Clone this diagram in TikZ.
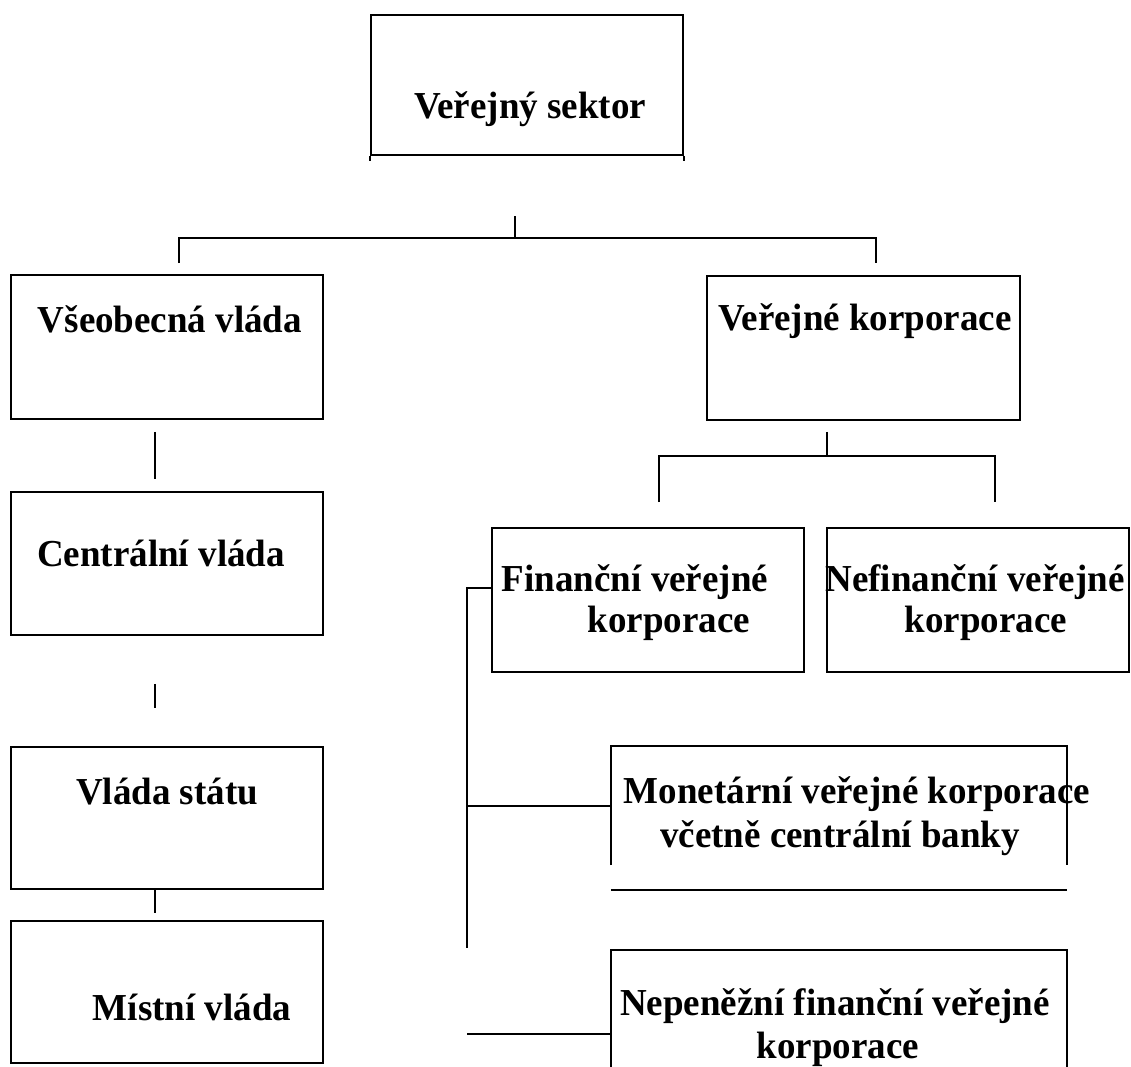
\documentclass[tikz,border=0pt]{standalone}
\usepackage{fontspec}
\setmainfont{Liberation Serif}
\begin{document}
\begin{tikzpicture}[x=1pt,y=-1pt,
  box/.style={draw, line width=1.6pt, inner sep=0pt},
  openbox/.style={inner sep=0pt},
  lbl/.style={font=\bfseries\fontsize{37}{41}\selectfont, inner sep=0pt, anchor=base, yscale=1.03},
  conn/.style={line width=1.6pt}]
\useasboundingbox (0,0) rectangle (1131,1066);
\fill[white] (0,0) rectangle (1131,1066);
\clip (0,0) rectangle (1131,1066);

% boxes
\node[box, minimum width=312pt, minimum height=140pt] (top) at (527,85) {};
\draw[conn] (top.south west) -- ++(0,5);
\draw[conn] (top.south east) -- ++(0,5);
\node[box, minimum width=312pt, minimum height=144pt] (vs) at (167,347) {};
\node[box, minimum width=312pt, minimum height=143pt] (cv) at (167,563.5) {};
\node[box, minimum width=312pt, minimum height=142pt] (vst) at (167,818) {};
\node[box, minimum width=312pt, minimum height=142pt] (mv) at (167,992) {};
\node[box, minimum width=313pt, minimum height=144pt] (vk) at (863.5,348) {};
\node[box, minimum width=312pt, minimum height=144pt] (fin) at (648,600) {};
\node[box, minimum width=302pt, minimum height=144pt] (nef) at (978,600) {};
\node[openbox, minimum width=456pt, minimum height=144pt] (mon) at (839,818) {};
\draw[conn] ([yshift=25pt]mon.south west) -- (mon.north west) -- (mon.north east) -- ([yshift=25pt]mon.south east);
\draw[conn] (mon.south west) -- (mon.south east);
\node[box, minimum width=456pt, minimum height=150pt] (nep) at (839,1025) {};

% labels
\node[lbl] (tVS) at (530,118) {Veřejný sektor};
\node[lbl] (tVV) at (170,332) {Všeobecná vláda};
\node[lbl] (tCV) at (161,566) {Centrální vláda};
\node[lbl] (tST) at (167,804) {Vláda státu};
\node[lbl] (tMV) at (192,1020) {Místní vláda};
\node[lbl] (tVK) at (865,330) {Veřejné korporace};
\node[lbl] (tF1) at (635,591) {Finanční veřejné};
\node[lbl] (tF2) at (669,632) {korporace};
\node[lbl] (tN1) at (975,591) {Nefinanční veřejné};
\node[lbl] (tN2) at (986,632) {korporace};
\node[lbl] (tM1) at (857,803) {Monetární veřejné korporace};
\node[lbl] (tM2) at (840,847) {včetně centrální banky};
\node[lbl] (tP1) at (835,1015) {Nepeněžní finanční veřejné};
\node[lbl] (tP2) at (838,1058) {korporace};

% connectors
\coordinate (t1) at (515,216);
\coordinate (t2) at (515,238);
\coordinate (tl) at (179,238);
\coordinate (tl2) at (179,263);
\coordinate (tr) at (876,238);
\coordinate (tr2) at (876,263);
\draw[conn] (t1) -- (t2);
\draw[conn] (tl2) -- (tl) -- (tr) -- (tr2);

\draw[conn] ([shift={(-12pt,-12pt)}]vs.south) -- ([shift={(-12pt,12pt)}]cv.north);
\draw[conn] ([shift={(-12pt,-48pt)}]cv.south) -- ([shift={(-12pt,38pt)}]vst.north);
\draw[conn] ([shift={(-12pt,0pt)}]vst.south) -- ([shift={(-12pt,7pt)}]mv.north);

\coordinate (kj) at (827,456);
\coordinate (kl) at (659,456);
\coordinate (kr) at (995,456);
\draw[conn] ([shift={(-36.5pt,-11pt)}]vk.south) -- (kj);
\draw[conn] ([shift={(11pt,25pt)}]fin.north) -- (kl) -- (kr) -- ([shift={(17pt,25pt)}]nef.north);

\coordinate (fb) at (467,948);
\draw[conn] ([yshift=12pt]fin.west) -| (fb);
\coordinate (mj) at (467,806);
\draw[conn] (mj) -- ([yshift=12pt]mon.west);
\coordinate (nj) at (467,1034);
\draw[conn] (nj) -- (nj -| nep.west);
\end{tikzpicture}
\end{document}
